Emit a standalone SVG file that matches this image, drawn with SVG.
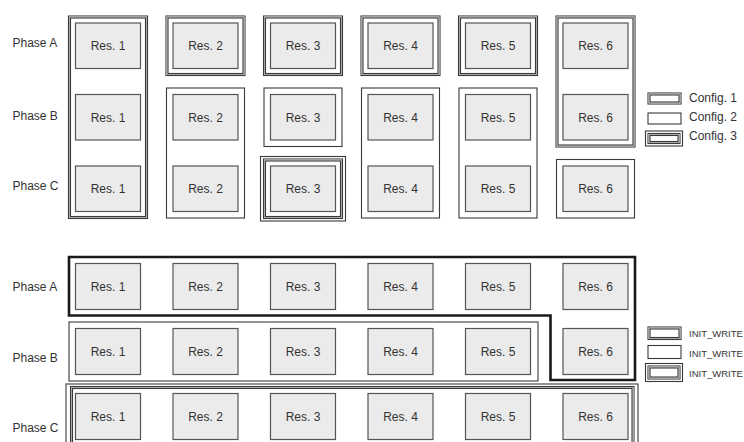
<svg xmlns="http://www.w3.org/2000/svg" width="744" height="442" viewBox="0 0 744 442">
<style>
text{font-family:"Liberation Sans",Arial,sans-serif;font-size:12px;fill:#333}
.res{fill:#ebebeb;stroke:#555;stroke-width:1.2}
.c1o{fill:none;stroke:#3a3a3a;stroke-width:1.1}
.c1m{fill:none;stroke:#b0b0b0;stroke-width:1}
.c2{fill:none;stroke:#3a3a3a;stroke-width:1.1}
.thick{fill:none;stroke:#1a1a1a;stroke-width:2.6}
.rl{text-anchor:middle}
.leg{font-size:9.5px}
</style>
<rect width="744" height="442" fill="#fff"/>

<g id="phase-labels">
<text x="12.5" y="47">Phase A</text>
<text x="12.5" y="120">Phase B</text>
<text x="12.5" y="190">Phase C</text>
<text x="12.5" y="291">Phase A</text>
<text x="12.5" y="362">Phase B</text>
<text x="12.5" y="432">Phase C</text>
</g>

<g id="top-configs">
<rect class="c1o" x="68.5" y="16" width="79" height="202.5"/>
<rect class="c1m" x="69.5" y="17" width="77" height="200.5"/>
<rect class="c1o" x="70.5" y="18" width="75" height="198.5"/>
<rect class="c1o" x="166" y="16" width="79" height="59.5"/>
<rect class="c1m" x="167" y="17" width="77" height="57.5"/>
<rect class="c1o" x="168" y="18" width="75" height="55.5"/>
<rect class="c2" x="166.5" y="88" width="78" height="130"/>
<rect class="c1o" x="263.5" y="16" width="79" height="59.5"/>
<rect class="c1m" x="264.5" y="17" width="77" height="57.5"/>
<rect class="c1o" x="265.5" y="18" width="75" height="55.5"/>
<rect class="c2" x="264" y="88" width="78" height="58.5"/>
<rect class="c2" x="260.5" y="156.5" width="85" height="64.5"/>
<rect class="c1o" x="263.5" y="159" width="79" height="59.5"/>
<rect class="c1m" x="264.5" y="160" width="77" height="57.5"/>
<rect class="c1o" x="265.5" y="161" width="75" height="55.5"/>
<rect class="c1o" x="361" y="16" width="79" height="59.5"/>
<rect class="c1m" x="362" y="17" width="77" height="57.5"/>
<rect class="c1o" x="363" y="18" width="75" height="55.5"/>
<rect class="c2" x="361.5" y="88" width="78" height="130"/>
<rect class="c1o" x="458.5" y="16" width="79" height="59.5"/>
<rect class="c1m" x="459.5" y="17" width="77" height="57.5"/>
<rect class="c1o" x="460.5" y="18" width="75" height="55.5"/>
<rect class="c2" x="459" y="88" width="78" height="130"/>
<rect class="c1o" x="556" y="16" width="79" height="131"/>
<rect class="c1m" x="557" y="17" width="77" height="129"/>
<rect class="c1o" x="558" y="18" width="75" height="127"/>
<rect class="c2" x="556.5" y="159.5" width="78" height="58.5"/>
</g>

<g id="top-legend">
<rect class="c1o" x="648" y="93" width="33" height="11"/>
<rect class="c1m" x="649" y="94" width="31" height="9"/>
<rect class="c1o" x="650" y="95" width="29" height="7"/>
<text x="689" y="102">Config. 1</text>
<rect class="c2" x="648" y="113" width="33" height="11"/>
<text x="689" y="121">Config. 2</text>
<rect class="c2" x="645.5" y="131" width="37" height="15"/>
<rect class="c1o" x="648" y="133.5" width="32" height="10"/>
<rect class="c1m" x="649" y="134.5" width="30" height="8"/>
<rect class="c1o" x="650" y="135.5" width="28" height="6"/>
<text x="689" y="140">Config. 3</text>
</g>

<g id="top-res">
<g id="tA1"><rect class="res" x="75.5" y="23" width="65" height="45.5"/><text class="rl" x="108" y="50">Res. 1</text></g>
<g id="tA2"><rect class="res" x="173" y="23" width="65" height="45.5"/><text class="rl" x="205.5" y="50">Res. 2</text></g>
<g id="tA3"><rect class="res" x="270.5" y="23" width="65" height="45.5"/><text class="rl" x="303" y="50">Res. 3</text></g>
<g id="tA4"><rect class="res" x="368" y="23" width="65" height="45.5"/><text class="rl" x="400.5" y="50">Res. 4</text></g>
<g id="tA5"><rect class="res" x="465.5" y="23" width="65" height="45.5"/><text class="rl" x="498" y="50">Res. 5</text></g>
<g id="tA6"><rect class="res" x="563" y="23" width="65" height="45.5"/><text class="rl" x="595.5" y="50">Res. 6</text></g>
<g id="tB1"><rect class="res" x="75.5" y="94.5" width="65" height="45.5"/><text class="rl" x="108" y="121.5">Res. 1</text></g>
<g id="tB2"><rect class="res" x="173" y="94.5" width="65" height="45.5"/><text class="rl" x="205.5" y="121.5">Res. 2</text></g>
<g id="tB3"><rect class="res" x="270.5" y="94.5" width="65" height="45.5"/><text class="rl" x="303" y="121.5">Res. 3</text></g>
<g id="tB4"><rect class="res" x="368" y="94.5" width="65" height="45.5"/><text class="rl" x="400.5" y="121.5">Res. 4</text></g>
<g id="tB5"><rect class="res" x="465.5" y="94.5" width="65" height="45.5"/><text class="rl" x="498" y="121.5">Res. 5</text></g>
<g id="tB6"><rect class="res" x="563" y="94.5" width="65" height="45.5"/><text class="rl" x="595.5" y="121.5">Res. 6</text></g>
<g id="tC1"><rect class="res" x="75.5" y="166" width="65" height="45.5"/><text class="rl" x="108" y="193">Res. 1</text></g>
<g id="tC2"><rect class="res" x="173" y="166" width="65" height="45.5"/><text class="rl" x="205.5" y="193">Res. 2</text></g>
<g id="tC3"><rect class="res" x="270.5" y="166" width="65" height="45.5"/><text class="rl" x="303" y="193">Res. 3</text></g>
<g id="tC4"><rect class="res" x="368" y="166" width="65" height="45.5"/><text class="rl" x="400.5" y="193">Res. 4</text></g>
<g id="tC5"><rect class="res" x="465.5" y="166" width="65" height="45.5"/><text class="rl" x="498" y="193">Res. 5</text></g>
<g id="tC6"><rect class="res" x="563" y="166" width="65" height="45.5"/><text class="rl" x="595.5" y="193">Res. 6</text></g>
</g>

<g id="bottom-configs">
<polygon class="thick" points="69,257 635,257 635,380 550.5,380 550.5,315.5 69,315.5"/>
<rect class="c2" x="69" y="322" width="469" height="59"/>
<rect class="c2" x="66" y="384" width="572" height="70"/>
<rect class="c1o" x="70.5" y="386.5" width="563.5" height="66"/>
<rect class="c1m" x="71.5" y="387.5" width="561.5" height="64"/>
<rect class="c1o" x="72.5" y="388.5" width="559.5" height="62"/>
</g>

<g id="bottom-legend">
<rect class="c1o" x="648" y="327" width="33" height="12.5"/>
<rect class="c1m" x="649" y="328" width="31" height="10.5"/>
<rect class="c1o" x="650" y="329" width="29" height="8.5"/>
<text class="leg" x="689" y="337">INIT_WRITE</text>
<rect class="c2" x="648" y="345.5" width="33" height="13"/>
<text class="leg" x="689" y="357">INIT_WRITE</text>
<rect class="c2" x="645.5" y="363.5" width="37" height="18"/>
<rect class="c1o" x="648" y="366" width="32" height="13"/>
<rect class="c1m" x="649" y="367" width="30" height="11"/>
<rect class="c1o" x="650" y="368" width="28" height="9"/>
<text class="leg" x="689" y="377">INIT_WRITE</text>
</g>

<g id="bottom-res">
<g id="bA1"><rect class="res" x="75.5" y="263.5" width="65" height="46"/><text class="rl" x="108" y="291">Res. 1</text></g>
<g id="bA2"><rect class="res" x="173" y="263.5" width="65" height="46"/><text class="rl" x="205.5" y="291">Res. 2</text></g>
<g id="bA3"><rect class="res" x="270.5" y="263.5" width="65" height="46"/><text class="rl" x="303" y="291">Res. 3</text></g>
<g id="bA4"><rect class="res" x="368" y="263.5" width="65" height="46"/><text class="rl" x="400.5" y="291">Res. 4</text></g>
<g id="bA5"><rect class="res" x="465.5" y="263.5" width="65" height="46"/><text class="rl" x="498" y="291">Res. 5</text></g>
<g id="bA6"><rect class="res" x="563" y="263.5" width="65" height="46"/><text class="rl" x="595.5" y="291">Res. 6</text></g>
<g id="bB1"><rect class="res" x="75.5" y="328.5" width="65" height="46"/><text class="rl" x="108" y="356">Res. 1</text></g>
<g id="bB2"><rect class="res" x="173" y="328.5" width="65" height="46"/><text class="rl" x="205.5" y="356">Res. 2</text></g>
<g id="bB3"><rect class="res" x="270.5" y="328.5" width="65" height="46"/><text class="rl" x="303" y="356">Res. 3</text></g>
<g id="bB4"><rect class="res" x="368" y="328.5" width="65" height="46"/><text class="rl" x="400.5" y="356">Res. 4</text></g>
<g id="bB5"><rect class="res" x="465.5" y="328.5" width="65" height="46"/><text class="rl" x="498" y="356">Res. 5</text></g>
<g id="bB6"><rect class="res" x="563" y="328.5" width="65" height="46"/><text class="rl" x="595.5" y="356">Res. 6</text></g>
<g id="bC1"><rect class="res" x="75.5" y="393.5" width="65" height="46"/><text class="rl" x="108" y="421">Res. 1</text></g>
<g id="bC2"><rect class="res" x="173" y="393.5" width="65" height="46"/><text class="rl" x="205.5" y="421">Res. 2</text></g>
<g id="bC3"><rect class="res" x="270.5" y="393.5" width="65" height="46"/><text class="rl" x="303" y="421">Res. 3</text></g>
<g id="bC4"><rect class="res" x="368" y="393.5" width="65" height="46"/><text class="rl" x="400.5" y="421">Res. 4</text></g>
<g id="bC5"><rect class="res" x="465.5" y="393.5" width="65" height="46"/><text class="rl" x="498" y="421">Res. 5</text></g>
<g id="bC6"><rect class="res" x="563" y="393.5" width="65" height="46"/><text class="rl" x="595.5" y="421">Res. 6</text></g>
</g>
</svg>
